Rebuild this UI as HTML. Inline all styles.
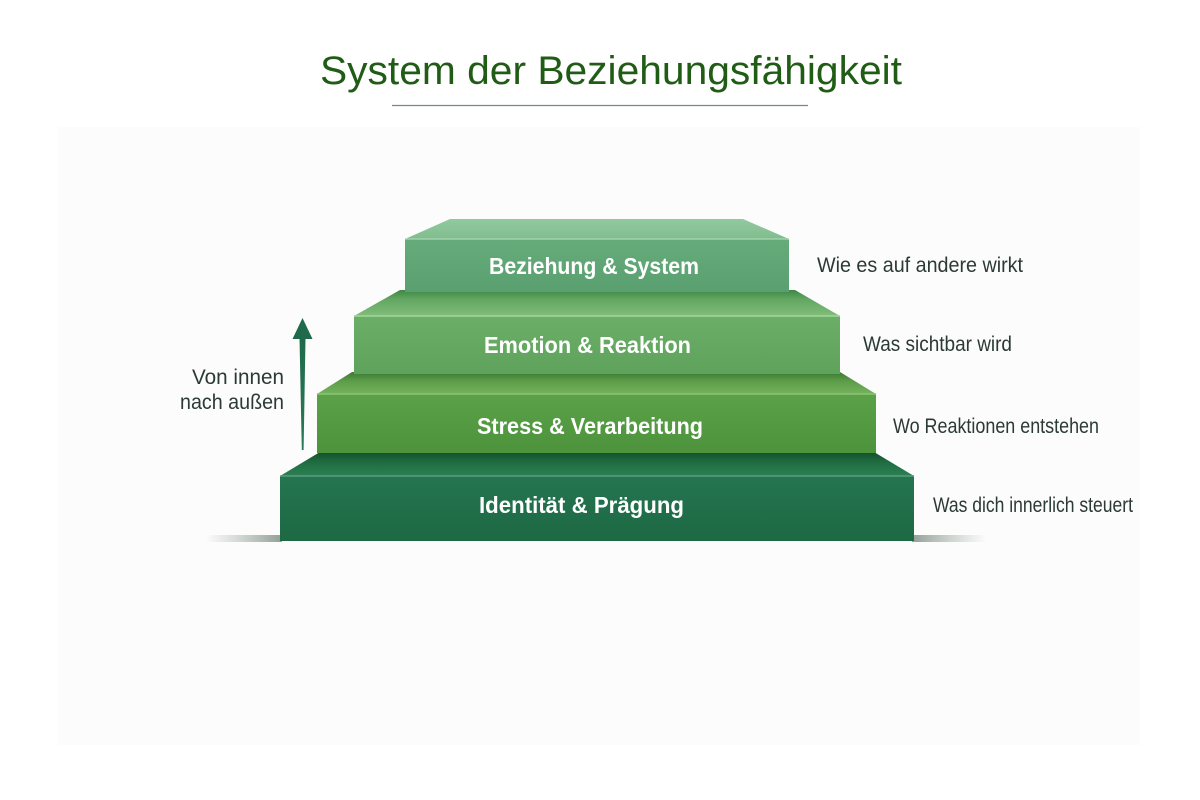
<!DOCTYPE html>
<html>
<head>
<meta charset="utf-8">
<style>
  html, body { margin:0; padding:0; background:#ffffff; }
  body { width:1200px; height:800px; overflow:hidden; }
  svg { display:block; }
  text { font-family: "Liberation Sans", "DejaVu Sans", sans-serif; }
</style>
</head>
<body>
<svg width="1200" height="800" viewBox="0 0 1200 800" xmlns="http://www.w3.org/2000/svg">
  <defs>
    <linearGradient id="top1" x1="0" y1="0" x2="0" y2="1">
      <stop offset="0" stop-color="#92c99f"/>
      <stop offset="1" stop-color="#80bd8e"/>
    </linearGradient>
    <linearGradient id="front1" x1="0" y1="0" x2="0" y2="1">
      <stop offset="0" stop-color="#66ac7b"/>
      <stop offset="1" stop-color="#5a9f6f"/>
    </linearGradient>
    <linearGradient id="top2" x1="0" y1="0" x2="0" y2="1">
      <stop offset="0" stop-color="#3f8645"/>
      <stop offset="0.35" stop-color="#62a662"/>
      <stop offset="1" stop-color="#80bd79"/>
    </linearGradient>
    <linearGradient id="front2" x1="0" y1="0" x2="0" y2="1">
      <stop offset="0" stop-color="#6bae68"/>
      <stop offset="1" stop-color="#5ea25b"/>
    </linearGradient>
    <linearGradient id="top3" x1="0" y1="0" x2="0" y2="1">
      <stop offset="0" stop-color="#3b7a34"/>
      <stop offset="0.4" stop-color="#5c9c48"/>
      <stop offset="1" stop-color="#76b25c"/>
    </linearGradient>
    <linearGradient id="front3" x1="0" y1="0" x2="0" y2="1">
      <stop offset="0" stop-color="#5aa148"/>
      <stop offset="1" stop-color="#4d933c"/>
    </linearGradient>
    <linearGradient id="top4" x1="0" y1="0" x2="0" y2="1">
      <stop offset="0" stop-color="#11502c"/>
      <stop offset="0.4" stop-color="#1f6b40"/>
      <stop offset="1" stop-color="#2c8054"/>
    </linearGradient>
    <linearGradient id="front4" x1="0" y1="0" x2="0" y2="1">
      <stop offset="0" stop-color="#247550"/>
      <stop offset="1" stop-color="#1d6944"/>
    </linearGradient>
    <linearGradient id="shL" x1="0" y1="0" x2="1" y2="0">
      <stop offset="0" stop-color="#8a9a90" stop-opacity="0"/>
      <stop offset="1" stop-color="#6f7f75" stop-opacity="0.75"/>
    </linearGradient>
    <linearGradient id="shR" x1="0" y1="0" x2="1" y2="0">
      <stop offset="0" stop-color="#6f7f75" stop-opacity="0.75"/>
      <stop offset="1" stop-color="#8a9a90" stop-opacity="0"/>
    </linearGradient>
    <linearGradient id="arrowG" x1="0" y1="0" x2="0" y2="1">
      <stop offset="0" stop-color="#1f6a4a"/>
      <stop offset="1" stop-color="#2a7a55"/>
    </linearGradient>
  </defs>

  <!-- background -->
  <rect x="0" y="0" width="1200" height="800" fill="#ffffff"/>
  <rect x="58" y="127" width="1082" height="618" fill="#fcfcfc"/>

  <!-- title -->
  <text x="611" y="84" font-size="40" fill="#205c16" text-anchor="middle" textLength="582" lengthAdjust="spacingAndGlyphs">System der Beziehungsfähigkeit</text>
  <line x1="392" y1="105.5" x2="808" y2="105.5" stroke="#708f70" stroke-width="1.3"/>

  <!-- ground shadows -->
  <rect x="205" y="535" width="77" height="7" fill="url(#shL)"/>
  <rect x="912" y="535" width="75" height="7" fill="url(#shR)"/>

  <!-- Step 4 (bottom) -->
  <polygon points="280,476 320,452 874,452 914,476" fill="url(#top4)"/>
  <rect x="280" y="476" width="634" height="65" fill="url(#front4)"/>
  <line x1="280" y1="476" x2="914" y2="476" stroke="#5a9e7c" stroke-width="1.5"/>

  <!-- Step 3 -->
  <polygon points="317,394 352,372 840,372 876,394" fill="url(#top3)"/>
  <rect x="317" y="394" width="559" height="59" fill="url(#front3)"/>
  <line x1="317" y1="394" x2="876" y2="394" stroke="#8cc476" stroke-width="1.5"/>

  <!-- Step 2 -->
  <polygon points="354,316 400,290 795,290 840,316" fill="url(#top2)"/>
  <rect x="354" y="316" width="486" height="58" fill="url(#front2)"/>
  <line x1="354" y1="316" x2="840" y2="316" stroke="#a6d59e" stroke-width="1.5"/>

  <!-- Step 1 (top) -->
  <polygon points="405,239 450,219 743,219 789,239" fill="url(#top1)"/>
  <rect x="405" y="239" width="384" height="53" fill="url(#front1)"/>
  <line x1="405" y1="239" x2="789" y2="239" stroke="#a9d7b2" stroke-width="1.2"/>

  <!-- step labels -->
  <g fill="#ffffff" font-weight="bold" font-size="23">
    <text x="489" y="274" textLength="210" lengthAdjust="spacingAndGlyphs">Beziehung &amp; System</text>
    <text x="484" y="353" textLength="207" lengthAdjust="spacingAndGlyphs">Emotion &amp; Reaktion</text>
    <text x="477" y="434" textLength="226" lengthAdjust="spacingAndGlyphs">Stress &amp; Verarbeitung</text>
    <text x="479" y="513" textLength="205" lengthAdjust="spacingAndGlyphs">Identität &amp; Prägung</text>
  </g>

  <!-- right labels -->
  <g fill="#2c3a36" font-size="21">
    <text x="817" y="272" textLength="206" lengthAdjust="spacingAndGlyphs">Wie es auf andere wirkt</text>
    <text x="863" y="351" textLength="149" lengthAdjust="spacingAndGlyphs">Was sichtbar wird</text>
    <text x="893" y="433" textLength="206" lengthAdjust="spacingAndGlyphs">Wo Reaktionen entstehen</text>
    <text x="933" y="512" textLength="200" lengthAdjust="spacingAndGlyphs">Was dich innerlich steuert</text>
  </g>

  <!-- left label -->
  <g fill="#2c3a36" font-size="21" text-anchor="end">
    <text x="284" y="384" textLength="92" lengthAdjust="spacingAndGlyphs">Von innen</text>
    <text x="284" y="409" textLength="104" lengthAdjust="spacingAndGlyphs">nach außen</text>
  </g>

  <!-- arrow -->
  <polygon points="302.5,318 292.5,339 312.5,339" fill="#1f6a4a"/>
  <polygon points="299.5,338 305.5,338 303.6,450 301.8,450" fill="url(#arrowG)"/>
</svg>
</body>
</html>
